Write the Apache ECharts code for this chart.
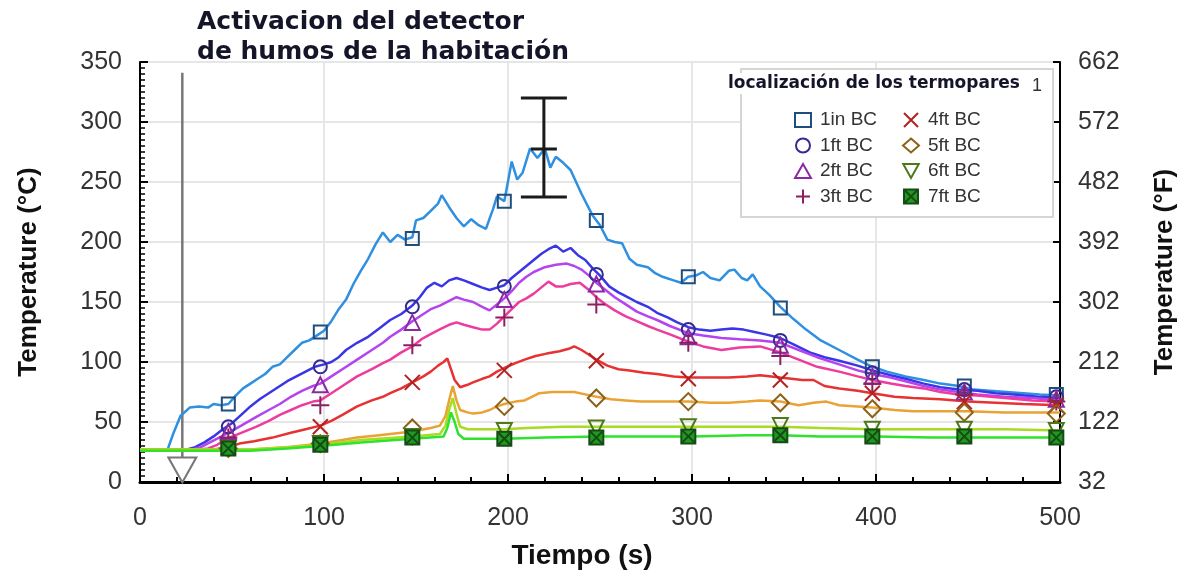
<!DOCTYPE html>
<html>
<head>
<meta charset="utf-8">
<script src="https://cdn.jsdelivr.net/npm/echarts@6/dist/echarts.min.js"></script>
<style>
  html, body { margin: 0; padding: 0; background: #fff; }
  #chart { width: 1192px; height: 576px; }
</style>
</head>
<body>
<div id="chart"></div>
<script>
// temperaturas [tiempo s, °C]
const t1in = [[0,27],[15,27],[18,40],[22,55],[27,62],[32,63],[37,62],[40,65],[44,64],[48,65],[52,72],[56,78],[60,82],[64,86],[68,90],[72,96],[76,98],[80,104],[84,110],[88,116],[92,118],[96,122],[100,126],[104,134],[108,144],[112,152],[116,165],[120,176],[124,186],[128,198],[132,208],[136,200],[140,206],[144,202],[148,204],[150,218],[154,220],[158,226],[162,232],[164,239],[168,229],[172,220],[176,213],[180,219],[184,214],[188,211],[192,228],[194,238],[198,234],[202,267],[205,252],[208,258],[212,278],[216,270],[220,278],[223,262],[226,271],[230,266],[234,260],[240,240],[246,222],[250,214],[254,202],[258,200],[262,199],[266,186],[270,181],[276,179],[280,174],[284,171],[290,168],[294,166],[298,171],[302,172],[306,175],[310,170],[315,168],[320,176],[323,177],[327,170],[330,168],[333,173],[337,163],[342,156],[348,146],[355,136],[362,127],[370,118],[380,110],[390,102],[398,96],[406,92],[416,88],[426,85],[435,82],[445,80],[453,77],[462,76],[471,75],[480,74],[489,73],[500,72]]
const t1ft = [[0,27],[25,27],[30,29],[35,33],[40,38],[45,44],[50,49],[55,56],[60,63],[65,69],[70,74],[75,79],[80,84],[85,88],[90,92],[95,96],[100,98],[104,100],[108,104],[112,110],[118,116],[124,121],[130,128],[136,135],[142,140],[148,147],[152,154],[156,162],[160,166],[164,163],[168,168],[172,170],[176,168],[181,165],[186,162],[190,160],[194,162],[198,164],[202,170],[206,175],[210,180],[214,185],[218,190],[222,194],[226,197],[230,192],[234,195],[238,189],[242,185],[246,178],[250,172],[255,163],[260,158],[265,154],[270,150],[276,146],[281,141],[287,137],[292,133],[298,129],[304,127],[310,126],[316,127],[322,128],[328,127],[334,125],[340,123],[348,120],[356,114],[364,108],[372,104],[380,101],[390,97],[398,93],[408,89],[416,86],[426,82],[435,79],[445,77],[455,76],[465,74],[475,73],[488,71],[500,70]]
const t2ft = [[0,27],[28,27],[33,29],[38,33],[43,37],[48,41],[55,47],[63,54],[70,60],[76,65],[82,71],[88,76],[94,80],[98,82],[104,88],[110,94],[118,102],[126,110],[132,116],[136,121],[142,127],[148,134],[153,139],[158,144],[163,147],[168,151],[172,154],[176,152],[181,150],[186,146],[190,143],[194,148],[198,153],[202,159],[206,166],[210,171],[214,175],[220,179],[226,181],[232,182],[236,180],[240,177],[244,172],[248,166],[253,160],[258,154],[264,148],[270,142],[276,138],[281,135],[288,130],[298,124],[306,122],[316,120],[326,119],[337,118],[348,116],[358,110],[368,104],[380,98],[390,93],[398,90],[408,87],[416,84],[426,80],[435,77],[445,75],[455,73],[470,71],[485,70],[500,68]]
const t3ft = [[0,27],[32,27],[37,28],[42,31],[47,36],[55,41],[63,46],[70,51],[76,56],[82,60],[88,64],[94,67],[98,68],[104,74],[110,80],[118,88],[126,94],[132,99],[136,102],[142,108],[148,113],[153,119],[159,124],[164,128],[168,131],[172,133],[176,131],[181,129],[186,127],[190,127],[194,132],[198,138],[202,144],[206,150],[210,153],[214,157],[218,162],[222,167],[226,163],[230,163],[234,165],[239,166],[244,160],[248,154],[253,148],[258,143],[264,138],[270,134],[276,130],[281,127],[288,123],[298,117],[306,113],[316,110],[326,112],[337,113],[348,108],[358,102],[368,96],[380,92],[390,88],[398,85],[408,82],[416,80],[426,78],[435,75],[445,73],[455,72],[470,70],[485,68],[500,67]]
const t4ft = [[0,27],[40,27],[48,29],[54,32],[62,34],[72,37],[82,41],[90,44],[98,47],[104,51],[110,56],[118,63],[126,68],[132,71],[136,74],[142,78],[148,83],[154,88],[158,92],[162,97],[165,100],[167,103],[169,94],[171,85],[174,79],[178,81],[181,83],[186,86],[190,88],[194,92],[198,95],[204,99],[209,102],[215,105],[221,107],[228,109],[233,111],[236,113],[240,110],[244,106],[248,102],[254,97],[260,94],[266,93],[274,91],[281,90],[290,88],[298,87],[310,87],[320,87],[330,88],[337,89],[348,87],[360,85],[366,85],[372,80],[380,78],[390,76],[398,74],[410,71],[420,70],[435,69],[450,67],[465,66],[480,65],[500,64]]
const t5ft = [[0,27],[60,27],[80,29],[98,32],[110,35],[118,37],[130,39],[148,42],[158,45],[163,47],[166,55],[168,68],[170,80],[172,68],[174,60],[178,58],[181,57],[186,58],[190,60],[194,63],[198,65],[204,67],[209,68],[213,71],[217,74],[224,75],[230,75],[236,75],[242,73],[248,71],[256,69],[264,68],[272,67],[281,67],[290,67],[298,67],[310,66],[320,66],[330,67],[337,68],[348,67],[358,64],[366,66],[373,67],[380,64],[390,63],[398,62],[410,60],[420,59],[435,59],[450,59],[470,58],[485,58],[500,58]]
const t6ft = [[0,27],[60,27],[80,29],[98,31],[120,35],[148,38],[163,40],[166,47],[168,60],[170,70],[172,57],[174,46],[178,44],[186,44],[198,44],[210,45],[230,46],[250,46],[270,46],[298,46],[320,46],[348,46],[370,45],[398,44],[420,44],[448,44],[470,44],[500,43]]
const t7ft = [[0,26],[60,26],[80,28],[98,30],[120,33],[148,36],[165,38],[167,45],[169,58],[171,50],[173,40],[176,36],[186,36],[198,36],[220,37],[250,38],[280,38],[300,38],[330,39],[348,39],[370,38],[400,38],[430,37],[460,37],[500,37]]

// marcadores cada 50 s
const markerTimes = [48, 98, 148, 198, 248, 298, 348, 398, 448, 498]
const m1in = [65, 125, 203, 234, 218, 171, 145, 96, 80, 73]
const m1ft = [46, 96, 146, 163, 173, 127, 118, 91, 77, 71]
const m2ft = [42, 81, 133, 152, 165, 121, 114, 88, 75, 69]
const m3ft = [37, 64, 114, 137, 148, 116, 105, 82, 73, 67]
const m4ft = [29, 46, 83, 93, 101, 86, 85, 74, 67, 64]
const m5ft = [28, 32, 45, 63, 70, 67, 66, 61, 58, 57]
const m6ft = [28, 32, 38, 43, 45, 46, 47, 44, 44, 43]
const m7ft = [28, 31, 37, 36, 37, 38, 39, 38, 38, 37]

const names = ['1in BC', '1ft BC', '2ft BC', '3ft BC', '4ft BC', '5ft BC', '6ft BC', '7ft BC']
const lineData = [t1in, t1ft, t2ft, t3ft, t4ft, t5ft, t6ft, t7ft]
const markerData = [m1in, m1ft, m2ft, m3ft, m4ft, m5ft, m6ft, m7ft]

// activacion del detector y barra de error
const detectorTime = 23
const detectorLine = [[detectorTime, 341], [detectorTime, 20]]
const detectorMark = [[detectorTime, 10]]
const errorBar = [[219.5, 237.5, 277.5, 320]]

const lineColors = ['#2f8fe0', '#3a36e6', '#b444ee', '#ee3c9e', '#e63232', '#e9a233', '#a8dc22', '#2ee22e']
const markColors = ['#1f4d7c', '#342a92', '#8a2aa2', '#8c1f62', '#b32222', '#8c6118', '#4d7a18', '#164a16']
const markFill = ['none', 'none', 'none', 'none', 'none', 'none', 'none', '#1f9a1f']
const symbols = [
  'rect',
  'circle',
  'triangle',
  'path://M5,0V10M0,5H10',
  'path://M0,0L10,10M10,0L0,10',
  'diamond',
  'path://M0,0H10L5,9Z',
  'path://M0,0H10V10H0ZM0,0L10,10M10,0L0,10'
]
const symbolSizes = [13, 13, 15, 18, 15, 17, 15, 14]

const font = 'Liberation Sans, Arial, sans-serif'

const chart = echarts.init(document.getElementById('chart'))

const series = []
// marcadores primero para que la leyenda use su simbolo
names.forEach((n, i) => {
  series.push({
    name: n,
    type: 'scatter',
    z: 4,
    symbol: symbols[i],
    symbolSize: symbolSizes[i],
    itemStyle: {
      color: markFill[i] === 'none' ? 'rgba(255,255,255,0)' : markFill[i],
      borderColor: markColors[i],
      borderWidth: 2,
      opacity: 1
    },
    data: markerTimes.map((t, k) => [t, markerData[i][k]])
  })
})
names.forEach((n, i) => {
  series.push({
    name: n,
    type: 'line',
    z: 3,
    symbol: 'none',
    lineStyle: { color: lineColors[i], width: 2.5 },
    itemStyle: { color: lineColors[i] },
    data: lineData[i]
  })
})

series.push({
  name: 'detector',
  type: 'line',
  symbol: 'none',
  z: 2,
  lineStyle: { color: '#777', width: 2.5 },
  data: detectorLine
})
series.push({
  name: 'detectorMark',
  type: 'scatter',
  z: 5,
  symbol: 'path://M0,0H10L5,9Z',
  symbolSize: [28, 25],
  itemStyle: { color: '#fff', borderColor: '#777', borderWidth: 2, opacity: 1 },
  data: detectorMark
})
series.push({
  name: 'error',
  type: 'custom',
  z: 6,
  encode: { x: 0, y: [1, 2, 3] },
  renderItem: (params, api) => {
    const lo = api.coord([api.value(0), api.value(1)])
    const mid = api.coord([api.value(0), api.value(2)])
    const hi = api.coord([api.value(0), api.value(3)])
    const st = { stroke: '#1a1a1a', lineWidth: 3 }
    return {
      type: 'group',
      children: [
        { type: 'line', shape: { x1: hi[0], y1: hi[1], x2: lo[0], y2: lo[1] }, style: st },
        { type: 'line', shape: { x1: hi[0] - 23, y1: hi[1], x2: hi[0] + 23, y2: hi[1] }, style: st },
        { type: 'line', shape: { x1: lo[0] - 23, y1: lo[1], x2: lo[0] + 23, y2: lo[1] }, style: st },
        { type: 'line', shape: { x1: mid[0] - 13, y1: mid[1], x2: mid[0] + 13, y2: mid[1] }, style: st }
      ]
    }
  },
  data: errorBar
})

const legendItem = (i) => ({
  name: names[i],
  icon: symbols[i],
  itemStyle: {
    color: markFill[i] === 'none' ? 'rgba(255,255,255,0)' : markFill[i],
    borderColor: markColors[i],
    borderWidth: 2
  }
})
const legendBase = {
  orient: 'vertical',
  top: 110,
  padding: 0,
  itemWidth: 16,
  itemHeight: 14,
  itemGap: 5.5,
  selectedMode: false,
  z: 6,
  textStyle: { fontFamily: font, fontSize: 19, lineHeight: 20, color: '#333', padding: [0, 0, 0, 4] }
}

chart.setOption({
  animation: false,
  backgroundColor: '#fff',
  grid: { left: 140, right: 132, top: 62, bottom: 94 },
  xAxis: {
    type: 'value',
    min: 0,
    max: 500,
    interval: 100,
    name: 'Tiempo (s)',
    nameLocation: 'middle',
    nameGap: 60,
    nameTextStyle: { fontFamily: font, fontSize: 28, fontWeight: 'bold', color: '#111', padding: [0, 36, 0, 0] },
    axisLine: { lineStyle: { color: '#000', width: 3 } },
    axisTick: { inside: true, length: 8, lineStyle: { color: '#000', width: 2 } },
    minorTick: { show: true, splitNumber: 5, length: 5, lineStyle: { color: '#000', width: 2 } },
    axisLabel: { fontFamily: font, fontSize: 25, color: '#333', margin: 24 },
    splitLine: { show: true, lineStyle: { color: '#e6e6e6', width: 2 } }
  },
  yAxis: [
    {
      type: 'value',
      min: 0,
      max: 350,
      interval: 50,
      name: 'Temperature (°C)',
      nameLocation: 'middle',
      nameRotate: 90,
      nameGap: 98,
      nameTextStyle: { fontFamily: font, fontSize: 26, fontWeight: 'bold', color: '#111' },
      axisLine: { show: true, lineStyle: { color: '#000', width: 2 } },
      axisTick: { show: true, inside: true, length: 8, lineStyle: { color: '#000', width: 2 } },
      minorTick: { show: true, splitNumber: 10, length: 5, lineStyle: { color: '#000', width: 1.5 } },
      axisLabel: { fontFamily: font, fontSize: 25, color: '#333', margin: 18 },
      splitLine: { show: true, lineStyle: { color: '#e6e6e6', width: 2 } }
    },
    {
      // misma escala en °C, etiquetas en °F
      type: 'value',
      position: 'right',
      min: 0,
      max: 350,
      interval: 50,
      name: 'Temperature (°F)',
      nameLocation: 'middle',
      nameRotate: 90,
      nameGap: 92,
      nameTextStyle: { fontFamily: font, fontSize: 26, fontWeight: 'bold', color: '#111' },
      axisLine: { show: true, lineStyle: { color: '#000', width: 2 } },
      axisTick: { show: true, inside: true, length: 7, lineStyle: { color: '#000', width: 2 } },
      axisLabel: {
        fontFamily: font, fontSize: 25, color: '#333', margin: 18,
        formatter: (v) => String(Math.round(v * 9 / 5 + 32))
      },
      splitLine: { show: false }
    }
  ],
  legend: [
    Object.assign({}, legendBase, { left: 794, data: [0, 1, 2, 3].map(legendItem) }),
    Object.assign({}, legendBase, { left: 902, data: [4, 5, 6, 7].map(legendItem) })
  ],
  graphic: [
    {
      type: 'text',
      left: 197,
      top: 7,
      z: 10,
      style: {
        text: 'Activacion del detector\nde humos de la habitación',
        font: 'bold 25px "DejaVu Sans", Verdana, sans-serif',
        lineHeight: 30,
        fill: '#15152a'
      }
    },
    {
      type: 'rect',
      left: 740,
      top: 68,
      z: 3,
      shape: { width: 312, height: 148 },
      style: { fill: '#fff', stroke: '#d6d6d6', lineWidth: 2 }
    },
    {
      type: 'text',
      left: 728,
      top: 73,
      z: 5,
      style: {
        text: 'localización de los termopares',
        font: 'bold 17px "DejaVu Sans", Verdana, sans-serif',
        fill: '#15152a',
        backgroundColor: '#fff',
        padding: [2, 4, 2, 0]
      }
    },
    {
      type: 'text',
      left: 1032,
      top: 77,
      z: 5,
      style: { text: '1', font: '18px "Liberation Sans", Arial, sans-serif', fill: '#333' }
    }
  ],
  series: series
})
</script>
</body>
</html>
